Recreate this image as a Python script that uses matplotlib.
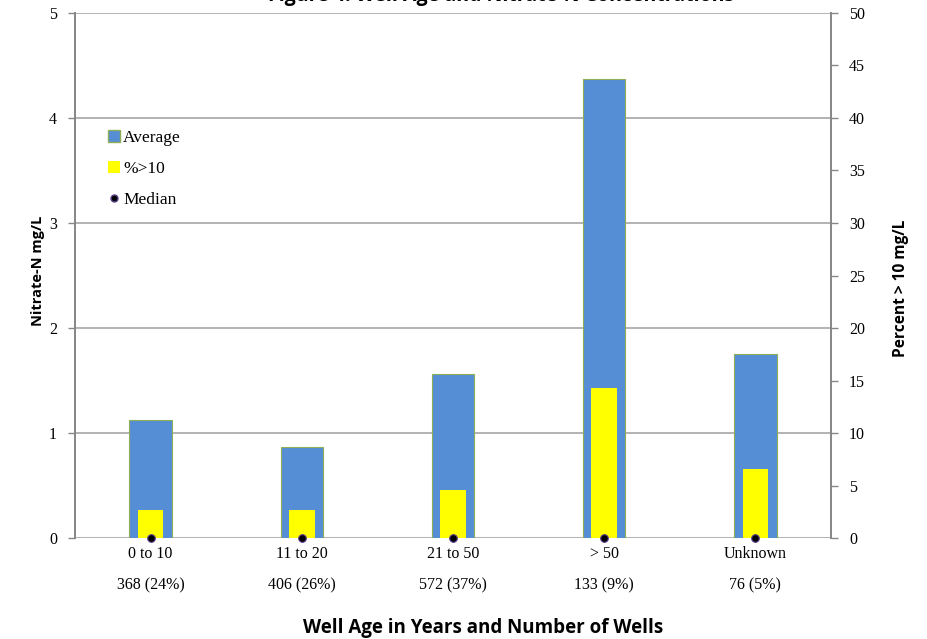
import matplotlib.pyplot as plt
from matplotlib.patches import Patch
from matplotlib.lines import Line2D
import numpy as np

blue_color = '#558ed5'
edge_color = '#8fae5a'
yellow_color = '#ffff00'
grid_color = '#a6a6a6'

age_groups = ['0 to 10', '11 to 20', '21 to 50', '> 50', 'Unknown']
well_counts = ['368 (24%)', '406 (26%)', '572 (37%)', '133 (9%)', '76 (5%)']
average_mgl = [1.12, 0.87, 1.56, 4.37, 1.75]
pct_over_10 = [2.7, 2.7, 4.6, 14.3, 6.6]
median_mgl = [0, 0, 0, 0, 0]

serif = 'Liberation Serif'
sans = 'Open Sans'

fig = plt.figure(figsize=(9.27, 6.39), dpi=100)
ax = fig.add_axes([0.0809, 0.158, 0.8155, 0.8217])
ax2 = ax.twinx()

x = np.arange(len(age_groups))
ax.bar(x, average_mgl, width=0.28, color=blue_color, edgecolor=edge_color, linewidth=0.8, zorder=2)
ax2.bar(x, pct_over_10, width=0.17, color=yellow_color, edgecolor='none', zorder=3)
ax2.scatter(x, median_mgl, s=30, color='black', edgecolors='#5a3d8a', linewidths=0.8, zorder=5, clip_on=False)

ax.set_xlim(-0.5, len(age_groups) - 0.5)
ax.set_ylim(0, 5)
ax2.set_ylim(0, 50)
ax.set_yticks(range(0, 6))
ax2.set_yticks(range(0, 51, 5))
ax.yaxis.grid(True, color=grid_color, linewidth=1.2, zorder=0)
ax.set_axisbelow(True)

for a in (ax, ax2):
	for side in ('top', 'bottom', 'left', 'right'):
		a.spines[side].set_visible(False)
ax.spines['left'].set_visible(True)
ax.spines['left'].set_color('#868686')
ax.spines['left'].set_linewidth(1.4)
ax2.spines['right'].set_visible(True)
ax2.spines['right'].set_color('#868686')
ax2.spines['right'].set_linewidth(1.4)

ax.tick_params(axis='y', length=5, color='#868686', width=1, labelsize=11.5, pad=8)
ax2.tick_params(axis='y', length=5, color='#868686', width=1, labelsize=11.5, pad=8)
for lab in ax.get_yticklabels() + ax2.get_yticklabels():
	lab.set_fontfamily(serif)

ax.set_xticks(x)
ax.set_xticklabels([f'{a}\n\n{c}' for a, c in zip(age_groups, well_counts)],
	fontfamily=serif, fontsize=11.5, linespacing=0.95)
ax.tick_params(axis='x', length=0, pad=6)

ax.set_ylabel('Nitrate-N mg/L', fontfamily=sans, fontweight='bold', fontsize=10.5)
ax.yaxis.set_label_coords(-0.04, 0.509)
ax2.set_ylabel('Percent > 10 mg/L', fontfamily=sans, fontweight='bold', fontsize=11.2)
ax2.yaxis.set_label_coords(1.082, 0.475)
fig.text(0.521, 1 - 628 / 639, 'Well Age in Years and Number of Wells', ha='center', va='center',
	fontfamily=sans, fontweight='bold', fontsize=13.5)
fig.text(0.54, 1 - 1 / 639, 'Figure 4. Well Age and Nitrate-N Concentrations', ha='center', va='baseline',
	fontfamily=sans, fontweight='bold', fontsize=14)

handles = [
	Patch(facecolor=blue_color, edgecolor=edge_color, label='Average'),
	Patch(facecolor=yellow_color, edgecolor='none', label='%>10'),
	Line2D([], [], marker='o', linestyle='none', markersize=5, markerfacecolor='black',
		markeredgecolor='#5a3d8a', label='Median'),
]
ax2.legend(handles=handles, loc='upper left', bbox_to_anchor=(0.035, 0.79), frameon=False,
	prop={'family': serif, 'size': 12.5}, handlelength=0.65, handleheight=0.65, handletextpad=0.2,
	labelspacing=0.85, borderaxespad=0)

fig.savefig('out.png', dpi=100)
